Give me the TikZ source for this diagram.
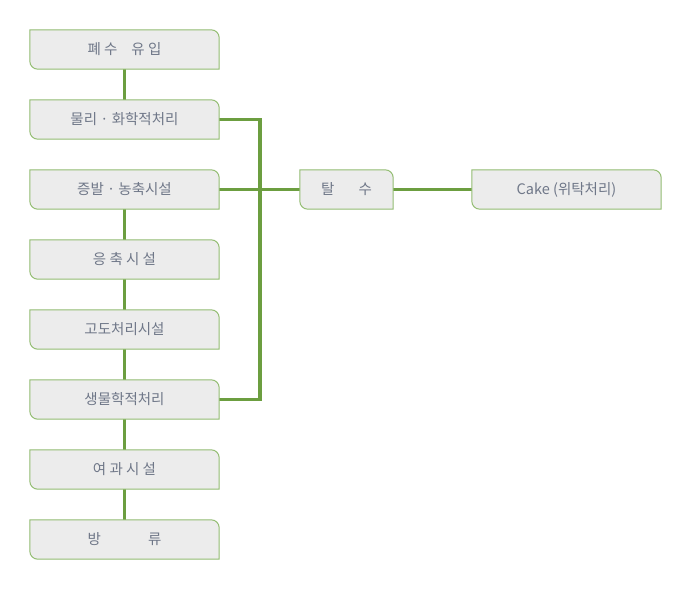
\documentclass[tikz,border=0pt]{standalone}
\usepackage{fontspec}
\setmainfont{Noto Sans CJK KR}
\usetikzlibrary{backgrounds}
\definecolor{lineg}{HTML}{6C9E40}
\definecolor{edgeg}{HTML}{93BD72}
\definecolor{boxfill}{HTML}{ECECEC}
\definecolor{txt}{HTML}{6F7788}
\tikzset{
  stepbox/.style={minimum width=189pt, minimum height=39pt, inner sep=0pt, text=txt, font=\fontsize{14.5}{17}\selectfont},
  smallbox/.style={stepbox, minimum width=93pt},
  conn/.style={draw=lineg, line width=3.5pt},
  boxshape/.style={draw=edgeg, fill=boxfill, line width=1pt},
}
\newcommand{\boxoutline}[1]{%
  \path[boxshape] (#1.north west) -- ([xshift=-8pt]#1.north east)
    arc[start angle=90, end angle=0, radius=8pt] -- (#1.south east)
    -- ([xshift=8pt]#1.south west)
    arc[start angle=270, end angle=180, radius=8pt] -- cycle;}
\begin{document}
\begin{tikzpicture}[x=1pt,y=-1pt]
\useasboundingbox (0,0) rectangle (690,610);
\node[stepbox] (inflow) at (124.5,49.5) {폐 수\hspace{14pt}유 입};
\node[stepbox] (phys) at (124.5,119.5) {물리 · 화학적처리};
\node[stepbox] (evap) at (124.5,189.5) {증발 · 농축시설};
\node[stepbox] (cond) at (124.5,259.5) {응 축 시 설};
\node[stepbox] (adv) at (124.5,329.5) {고도처리시설};
\node[stepbox] (bio) at (124.5,399.5) {생물학적처리};
\node[stepbox] (filt) at (124.5,469.5) {여 과 시 설};
\node[stepbox] (out) at (124.5,539.5) {방\hspace{47pt}류};
\node[smallbox] (dew) at (346.5,189.5) {탈\hspace{24pt}수};
\node[stepbox] (cake) at (566.5,189.5) {Cake (위탁처리)};
\coordinate (j) at (260,189.5);
\begin{scope}[on background layer]
  \fill[white] (0,0) rectangle (690,610);
  \draw[conn] (inflow) -- (phys);
  \draw[conn] (evap) -- (cond);
  \draw[conn] (cond) -- (adv);
  \draw[conn] (adv) -- (bio);
  \draw[conn] (bio) -- (filt);
  \draw[conn] (filt) -- (out);
  \draw[conn] (phys.east) -| (j);
  \draw[conn] (bio.east) -| (j);
  \draw[conn] (evap.east) -- (dew.west);
  \draw[conn] (dew.east) -- (cake.west);
  \foreach \n in {inflow,phys,evap,cond,adv,bio,filt,out,dew,cake} {\boxoutline{\n}}
\end{scope}
\end{tikzpicture}
\end{document}
